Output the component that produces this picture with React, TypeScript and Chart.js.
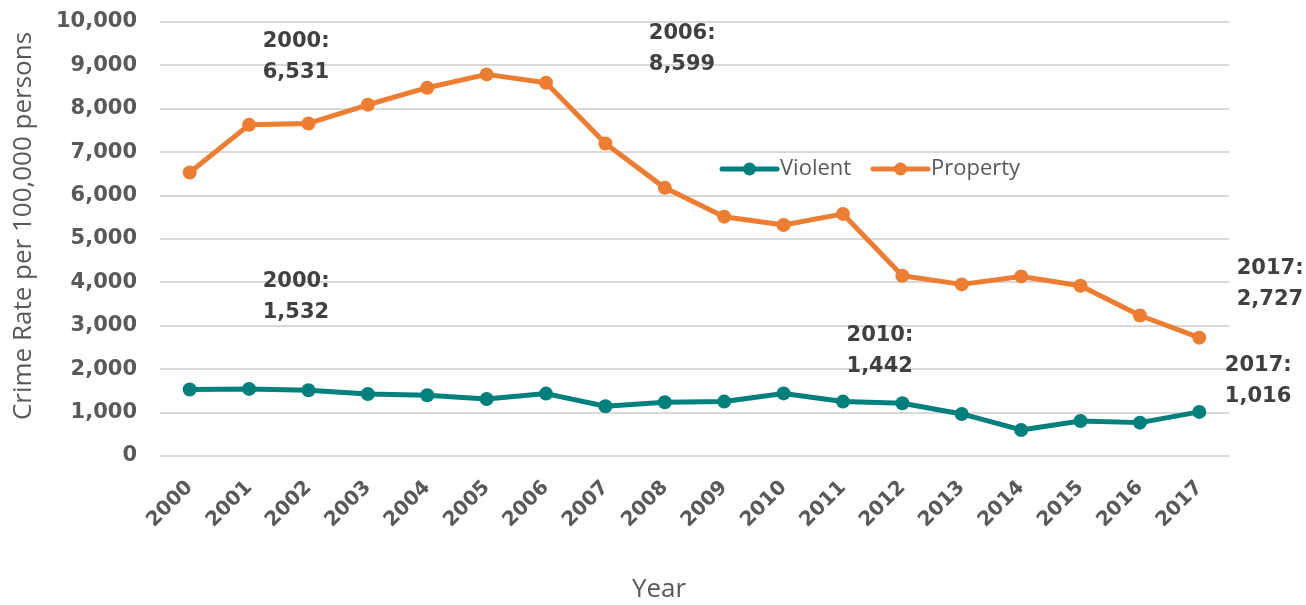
import React, { useEffect, useRef } from "react";
import { Chart, registerables } from "chart.js";

Chart.register(...registerables);

const years = ["2000", "2001", "2002", "2003", "2004", "2005", "2006", "2007", "2008", "2009", "2010", "2011", "2012", "2013", "2014", "2015", "2016", "2017"];
const violent = [1532, 1546, 1515, 1430, 1400, 1315, 1438, 1146, 1240, 1254, 1442, 1254, 1215, 969, 600, 808, 769, 1016];
const property = [6531, 7630, 7662, 8093, 8486, 8793, 8599, 7200, 6178, 5515, 5324, 5578, 4154, 3954, 4138, 3923, 3238, 2727];

const seriesNames = ["Violent", "Property"];
const seriesColors = ["#00807C", "#ED7D31"];
const yAxisTitle = "Crime Rate per 100,000 persons";
const xAxisTitle = "Year";

// callouts: which point is labelled, and where (category index, value) its text sits
const callouts = [
  { series: "Property", year: "2000", atX: 1.23, atY: 9560 },
  { series: "Property", year: "2006", atX: 7.73, atY: 9725 },
  { series: "Violent", year: "2000", atX: 1.23, atY: 4030 },
  { series: "Violent", year: "2010", atX: 11.06, atY: 2765 },
  { series: "Property", year: "2017", atX: 17.63, atY: 4330 },
  { series: "Violent", year: "2017", atX: 17.43, atY: 2095 },
];

const TEXT = "#595959";
const DARK = "#404040";

const extrasPlugin = {
  id: "extras",
  afterDraw(chart: any) {
    const { ctx, scales } = chart;
    const x = scales.x;
    const y = scales.y;
    ctx.save();
    // callouts
    ctx.font = "bold 21px 'DejaVu Sans'";
    ctx.fillStyle = DARK;
    ctx.textAlign = "left";
    ctx.textBaseline = "middle";
    for (const c of callouts) {
      const idx = years.indexOf(c.year);
      const val = (c.series === "Violent" ? violent : property)[idx];
      const px = x.getPixelForValue(c.atX);
      const py = y.getPixelForValue(c.atY);
      ctx.fillText(`${c.year}:`, px, py);
      ctx.fillText(val.toLocaleString("en-US"), px, py + 31);
    }
    // legend
    const legendY = 169;
    const legendStarts = [722, 873];
    ctx.font = "22px 'Open Sans'";
    seriesNames.forEach((name, i) => {
      const lx = legendStarts[i];
      ctx.strokeStyle = seriesColors[i];
      ctx.lineWidth = 5;
      ctx.lineCap = "round";
      ctx.beginPath();
      ctx.moveTo(lx, legendY);
      ctx.lineTo(lx + 55, legendY);
      ctx.stroke();
      ctx.fillStyle = seriesColors[i];
      ctx.beginPath();
      ctx.arc(lx + 27.5, legendY, 6.5, 0, Math.PI * 2);
      ctx.fill();
      ctx.fillStyle = TEXT;
      ctx.textAlign = "left";
      ctx.fillText(name, lx + 58, legendY);
    });
    // axis titles
    ctx.font = "26px 'Open Sans'";
    ctx.fillStyle = TEXT;
    ctx.textAlign = "center";
    ctx.textBaseline = "middle";
    ctx.fillText(xAxisTitle, 659, 590);
    ctx.translate(24, 226);
    ctx.rotate(-Math.PI / 2);
    ctx.fillText(yAxisTitle, 0, 0);
    ctx.restore();
  },
};

export default function App() {
  const ref = useRef<HTMLCanvasElement>(null);
  useEffect(() => {
    if (!ref.current) return;
    const chart = new Chart(ref.current, {
      type: "line",
      data: {
        labels: years,
        datasets: [
          {
            label: seriesNames[0],
            data: violent,
            borderColor: seriesColors[0],
            backgroundColor: seriesColors[0],
            pointBackgroundColor: seriesColors[0],
          },
          {
            label: seriesNames[1],
            data: property,
            borderColor: seriesColors[1],
            backgroundColor: seriesColors[1],
            pointBackgroundColor: seriesColors[1],
          },
        ],
      },
      options: {
        responsive: false,
        animation: false,
        layout: { padding: { top: 22, right: 77, bottom: 0, left: 0 } },
        elements: {
          line: { tension: 0, borderWidth: 5, borderCapStyle: "round", borderJoinStyle: "round" },
          point: { radius: 7, borderWidth: 0, hoverRadius: 7 },
        },
        plugins: { legend: { display: false }, tooltip: { enabled: false } },
        scales: {
          x: {
            offset: true,
            grid: { display: false },
            border: { display: false },
            ticks: {
              minRotation: 45,
              maxRotation: 45,
              padding: 12,
              color: TEXT,
              font: { family: "'DejaVu Sans'", weight: "bold", size: 20 },
            },
            afterFit: (s: any) => {
              s.height = 149;
            },
          },
          y: {
            min: 0,
            max: 10000,
            grid: { color: "#d9d9d9", lineWidth: 2, drawTicks: false },
            border: { display: false },
            ticks: {
              stepSize: 1000,
              padding: 23,
              color: TEXT,
              font: { family: "'DejaVu Sans'", weight: "bold", size: 21 },
              callback: (v: any) => Number(v).toLocaleString("en-US"),
            },
            afterFit: (s: any) => {
              s.width = 160;
              s.paddingTop = 0;
              s.paddingBottom = 0;
            },
          },
        },
      } as any,
      plugins: [extrasPlugin],
    });
    return () => chart.destroy();
  }, []);
  return (
    <div style={{ position: "absolute", left: 0, top: 0, width: 1306, height: 605, background: "#fff" }}>
      <canvas ref={ref} width={1306} height={605} style={{ display: "block" }} />
    </div>
  );
}
